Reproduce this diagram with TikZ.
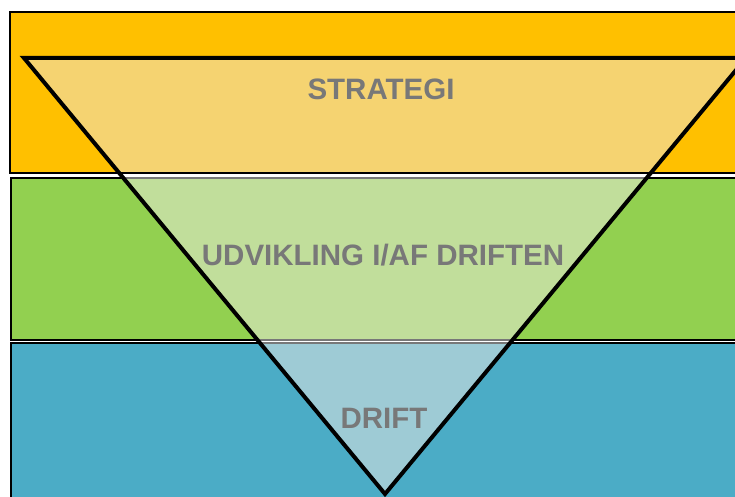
\documentclass[tikz,border=0pt]{standalone}
\usepackage{fontspec}
\setmainfont{Liberation Sans}
\usetikzlibrary{positioning}
\definecolor{lvlOrange}{HTML}{FFC000}
\definecolor{lvlGreen}{HTML}{92D050}
\definecolor{lvlBlue}{HTML}{4BACC6}
\definecolor{lvlOrangePale}{HTML}{F5D371}
\definecolor{lvlGreenPale}{HTML}{C1DE9B}
\definecolor{lvlBluePale}{HTML}{9ECBD5}
\definecolor{lvlInk}{HTML}{787878}
\tikzset{
  every picture/.style={font=\bfseries\fontsize{29.5}{33}\selectfont, text=lvlInk},
  lvl band/.style={draw=black, line width=1.2pt},
  lvl tri/.style={draw=black, line width=4pt, line join=miter},
  lvl label/.style={inner sep=0pt, anchor=center}
}

\begin{document}
\begin{tikzpicture}[x=1pt,y=-1pt]
  \useasboundingbox (0,0) rectangle (735,497);
  \clip (0,0) rectangle (735,497);
  % bands
  \fill[white] (0,0) rectangle (735,497);
  \draw[lvl band, fill=lvlOrange] (10,12) rectangle (745,173);
  \draw[lvl band, fill=lvlGreen] (11,178) rectangle (745,340);
  \draw[lvl band, fill=lvlBlue] (11,343) rectangle (745,505);
  % pale part inside the funnel
  \begin{scope}
    \clip (24,58) -- (746,58) -- (385,494) -- cycle;
    \fill[white] (0,0) rectangle (745,505);
    \draw[lvl band, fill=lvlOrangePale] (10,12) rectangle (745,173);
    \draw[lvl band, draw=lvlInk, fill=lvlGreenPale] (11,178) rectangle (745,340);
    \draw[lvl band, draw=lvlInk, fill=lvlBluePale] (11,343) rectangle (745,505);
  \end{scope}
  \draw[lvl tri] (24,58) -- (746,58) -- (385,494) -- cycle;
  % labels
  \node[lvl label] (strategi) at (381,89) {STRATEGI};
  \node[lvl label] (udvikling) at (383,255) {UDVIKLING I/AF DRIFTEN};
  \node[lvl label] (drift) at (384,418) {DRIFT};
\end{tikzpicture}
\end{document}
